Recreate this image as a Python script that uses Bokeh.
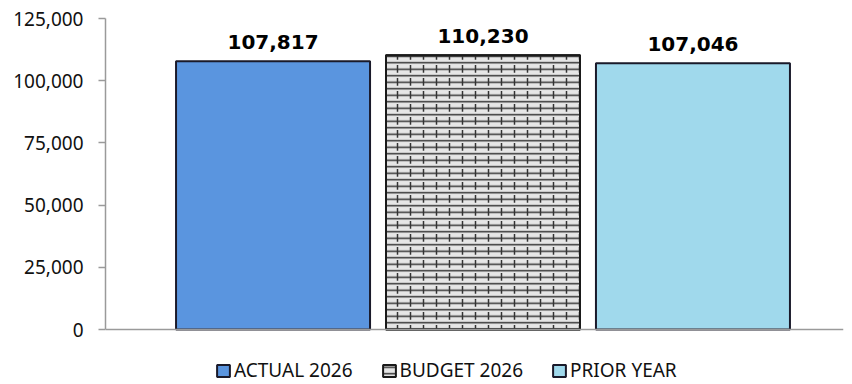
from bokeh.plotting import figure
from bokeh.models import (ColumnDataSource, Legend, LegendItem, Range1d, NumeralTickFormatter,
                          FixedTicker, Span)
from bokeh.core.properties import value
from bokeh.embed import file_html
from bokeh.resources import INLINE

series = ["ACTUAL 2026", "BUDGET 2026", "PRIOR YEAR"]
values = [107817, 110230, 107046]
y_ticks = [0, 25000, 50000, 75000, 100000, 125000]
colors = ["#5A95DF", "#E6E6E6", "#A0D9EC"]

xpos = [1, 2, 3]
labels = [f"{v:,}" for v in values]

# frame extends below zero so the legend can sit inside it
p = figure(width=852, height=384, output_backend="svg", toolbar_location=None,
           x_range=Range1d(0.202, 3.717), y_range=Range1d(-22100, 125000),
           min_border_left=105, min_border_right=9, min_border_top=18, min_border_bottom=0)
p.outline_line_color = None
p.grid.visible = False
p.background_fill_color = "white"
p.xaxis.visible = False

renderers = []
for i in range(3):
    src = ColumnDataSource(dict(x=[xpos[i]], top=[values[i]]))
    if i == 1:
        r = p.vbar(x="x", top="top", bottom=0, width=0.924, source=src, fill_color=colors[i],
                   line_color="#1a1a1a", line_width=2,
                   hatch_pattern="horizontal_line", hatch_scale=6.5, hatch_color="#333333",
                   hatch_weight=1.5)
        p.vbar(x="x", top="top", bottom=0, width=0.924, source=src, fill_alpha=0,
               line_color="#1a1a1a", line_width=2, hatch_pattern="vertical_dash",
               hatch_scale=13, hatch_color="#333333", hatch_weight=1.5)
    else:
        r = p.vbar(x="x", top="top", bottom=0, width=0.924, source=src, fill_color=colors[i],
                   line_color="#1a1a2a", line_width=2)
    renderers.append(r)

p.add_layout(Span(location=0, dimension="width", line_color="#9a9a9a", line_width=1.5))

p.text(x=xpos, y=values, text=labels, text_align="center", text_baseline="alphabetic",
       y_offset=-19, text_font=value("DejaVu Sans"), text_font_style="bold",
       text_font_size="20px", text_color="black")

p.yaxis.bounds = (0, 125000)
p.yaxis.ticker = FixedTicker(ticks=y_ticks)
p.yaxis.formatter = NumeralTickFormatter(format="0,0")
p.yaxis.axis_line_color = "#9a9a9a"
p.yaxis.axis_line_width = 1.5
p.yaxis.major_tick_line_color = "#9a9a9a"
p.yaxis.major_tick_line_width = 1.5
p.yaxis.major_tick_out = 7
p.yaxis.major_tick_in = 0
p.yaxis.minor_tick_line_color = None
p.yaxis.major_label_standoff = 15
p.yaxis.major_label_text_font = "Noto Sans"
p.yaxis.major_label_text_font_size = "19px"
p.yaxis.major_label_text_color = "#111111"

legend = Legend(items=[LegendItem(label=series[i], renderers=[renderers[i]]) for i in range(3)],
                orientation="horizontal", location=(110, 1),
                glyph_width=16, glyph_height=15, label_standoff=3, spacing=28,
                padding=2, margin=0, border_line_color=None, background_fill_alpha=0,
                label_text_font="Noto Sans", label_text_font_size="19px",
                label_text_color="#111111", label_height=15)
p.add_layout(legend, "center")

open("out.html", "w").write(file_html(p, INLINE))
